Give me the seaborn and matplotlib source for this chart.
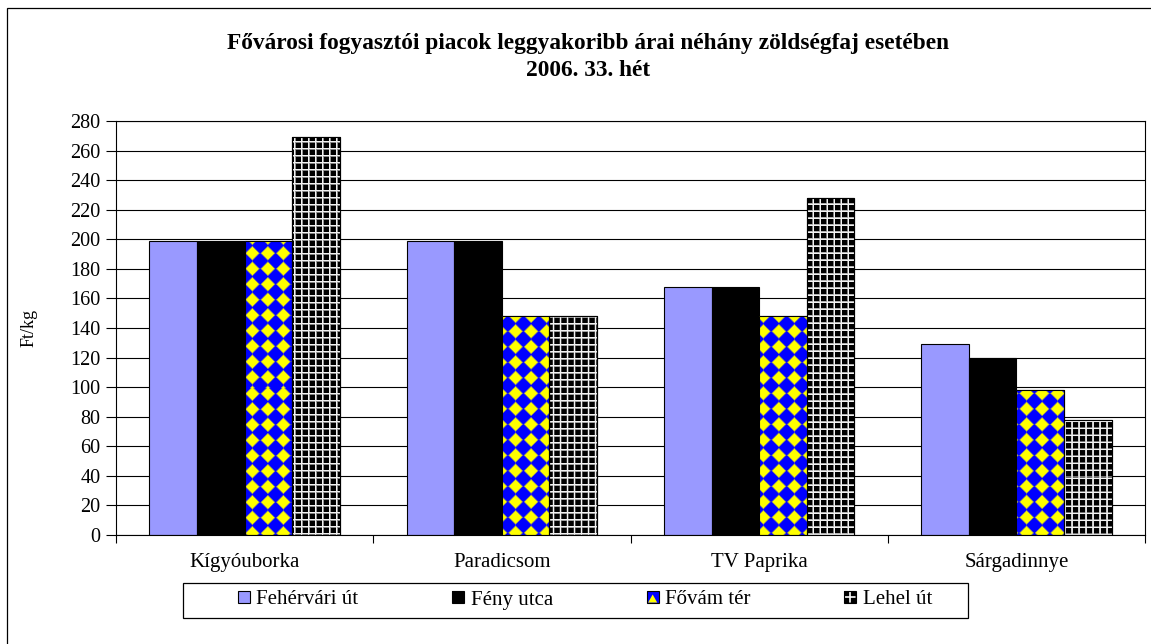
import numpy as np
import pandas as pd
import matplotlib
matplotlib.use('Agg')
import matplotlib.pyplot as plt
import seaborn as sns
from matplotlib.patches import Rectangle, Patch, Polygon
from matplotlib.legend_handler import HandlerPatch
from matplotlib.lines import Line2D

# ---------------- data ----------------
categories = ['Kígyóuborka', 'Paradicsom', 'TV Paprika', 'Sárgadinnye']
markets = ['Fehérvári út', 'Fény utca', 'Fővám tér', 'Lehel út']
fehervari = [199, 199, 168, 129]
feny = [199, 199, 168, 120]
fovam = [199, 148, 148, 98]
lehel = [269, 148, 228, 78]
title_line1 = 'Fővárosi fogyasztói piacok leggyakoribb árai néhány zöldségfaj esetében'
title_line2 = '2006. 33. hét'
y_label = 'Ft/kg'
y_ticks = list(range(0, 281, 20))

sns.set_style('white')
plt.rcParams['font.family'] = ['Liberation Serif', 'DejaVu Serif']
for k in ['text.color', 'axes.labelcolor', 'xtick.color', 'ytick.color', 'axes.edgecolor']:
    plt.rcParams[k] = 'black'

df = pd.DataFrame({
    'Termék': categories * 4,
    'Piac': sum([[m] * len(categories) for m in markets], []),
    'Ár': fehervari + feny + fovam + lehel,
})

W, H = 1151, 644
fig = plt.figure(figsize=(W / 100, H / 100), dpi=100)
ax = fig.add_axes([116 / W, 1 - 535 / H, 1029 / W, 414 / H])

palette = {'Fehérvári út': '#9999FF', 'Fény utca': '#000000',
           'Fővám tér': '#0000FF', 'Lehel út': '#000000'}
sns.barplot(data=df, x='Termék', y='Ár', hue='Piac', order=categories,
            hue_order=markets, palette=palette, saturation=1, width=0.74,
            gap=0, edgecolor='black', linewidth=0.8, legend=False, ax=ax,
            zorder=2)
ax.set_xlim(-0.5, 3.5)
ax.set_ylim(0, 280)


def diamond_rgb(X, Y):
    P = 15.5
    dx = np.abs(((X - 4) / P + 0.5) % 1 - 0.5) * P
    dy = np.abs(((Y - 6) / P + 0.5) % 1 - 0.5) * P
    d = dx + dy
    t = np.clip((0.45 * P - d) / 2.2 + 0.5, 0, 1)[..., None]
    blue = np.array([0.0, 0.0, 1.0])
    yellow = np.array([1.0, 1.0, 0.0])
    return blue * (1 - t) + yellow * t


def grid_rgb(X, Y):
    P = 7.0
    fx = np.abs(((X - 1) / P + 0.5) % 1 - 0.5) * P
    fy = np.abs(((Y - 2) / P + 0.5) % 1 - 0.5) * P
    w = 0.8
    tx = np.clip((w - fx) / 0.8 + 0.5, 0, 1)
    ty = np.clip((w - fy) / 0.8 + 0.5, 0, 1)
    t = np.maximum(tx, ty) * 0.95
    return np.dstack([t, t, t])


for cont, func in [(ax.containers[2], diamond_rgb), (ax.containers[3], grid_rgb)]:
    for bar in cont:
        x0, y0 = bar.get_x(), bar.get_y()
        w, h = bar.get_width(), bar.get_height()
        (px0, py0), (px1, py1) = ax.transData.transform([(x0, y0), (x0 + w, y0 + h)])
        nx = max(int(round(px1 - px0)), 1)
        ny = max(int(round(py1 - py0)), 1)
        xs = px0 + np.arange(nx) + 0.5
        ys = py1 - np.arange(ny) - 0.5
        X, Y = np.meshgrid(xs, ys)
        img = func(X, H - Y)
        im = ax.imshow(img, extent=(x0, x0 + w, y0, y0 + h), origin='upper',
                       aspect='auto', interpolation='nearest', zorder=2.5)
        im.set_clip_path(bar)
        ax.add_patch(Rectangle((x0, y0), w, h, fill=False, edgecolor='black',
                               linewidth=0.8, zorder=2.6))

ax.set_xlim(-0.5, 3.5)
ax.set_ylim(0, 280)

# axes styling
ax.set_yticks(y_ticks)
ax.tick_params(axis='y', direction='out', length=7, width=0.8, pad=4,
               labelsize=14.5, left=True)
ax.set_xticks(range(len(categories)))
ax.set_xticklabels(categories)
ax.set_xticks(np.arange(-0.5, len(categories), 1), minor=True)
ax.tick_params(axis='x', which='major', length=0, pad=13, labelsize=15)
ax.tick_params(axis='x', which='minor', direction='out', length=6, width=0.8,
               bottom=True)
ax.grid(axis='y', color='black', linewidth=0.8)
ax.grid(axis='x', visible=False)
ax.set_axisbelow(True)
for s in ax.spines.values():
    s.set_visible(True)
    s.set_color('black')
    s.set_linewidth(0.8)
ax.set_xlabel('')
ax.set_ylabel(y_label, fontsize=13)
ax.yaxis.set_label_coords((38 - 116) / 1029, 0.5)

# titles
fig.text(588 / W, 1 - 43 / H, title_line1, ha='center', va='center',
         fontsize=16.8, fontweight='bold')
fig.text(588 / W, 1 - 71 / H, title_line2, ha='center', va='center',
         fontsize=16.8, fontweight='bold')


# legend
class PatternHandler(HandlerPatch):
    def __init__(self, kind):
        super().__init__()
        self.kind = kind

    def create_artists(self, legend, orig_handle, xdescent, ydescent, width,
                       height, fontsize, trans):
        s = min(width, height)
        x0 = -xdescent + (width - s) / 2
        y0 = -ydescent + (height - s) / 2
        arts = [Rectangle((x0, y0), s, s, facecolor=orig_handle.get_facecolor(),
                          edgecolor='none', transform=trans)]
        if self.kind == 'diamond':
            arts.append(Polygon([(x0 + 0.12 * s, y0 + 0.05 * s),
                                 (x0 + 0.5 * s, y0 + 0.72 * s),
                                 (x0 + 0.88 * s, y0 + 0.05 * s)], closed=True,
                                facecolor='#FFFF00', edgecolor='none',
                                transform=trans))
        elif self.kind == 'grid':
            arts.append(Line2D([x0 + 0.5 * s] * 2, [y0 + 0.1 * s, y0 + 0.9 * s],
                               color='white', lw=1.2, transform=trans))
            arts.append(Line2D([x0 + 0.1 * s, x0 + 0.9 * s], [y0 + 0.5 * s] * 2,
                               color='white', lw=1.2, transform=trans))
        arts.append(Rectangle((x0, y0), s, s, fill=False, edgecolor='black',
                              linewidth=0.8, transform=trans))
        return arts


handles = [Patch(facecolor=palette[m]) for m in markets]
kinds = ['plain', 'plain', 'diamond', 'grid']
hmap = {h: PatternHandler(k) for h, k in zip(handles, kinds)}
fig.legend(handles, markets, handler_map=hmap, loc='center',
           bbox_to_anchor=(585 / W, 1 - 600 / H), ncol=4, frameon=False,
           fontsize=15, handlelength=0.58, handleheight=0.58,
           handletextpad=0.3, columnspacing=4.5)
fig.patches.append(Rectangle((183 / W, 1 - 618 / H), 785 / W, 35 / H,
                             transform=fig.transFigure, fill=False,
                             edgecolor='black', linewidth=0.9))
# outer chart frame
fig.patches.append(Rectangle((7 / W, -0.05), 1.2, 1 - 8 / H + 0.05,
                             transform=fig.transFigure, fill=False,
                             edgecolor='black', linewidth=0.9))

fig.savefig('out.png', dpi=100)
